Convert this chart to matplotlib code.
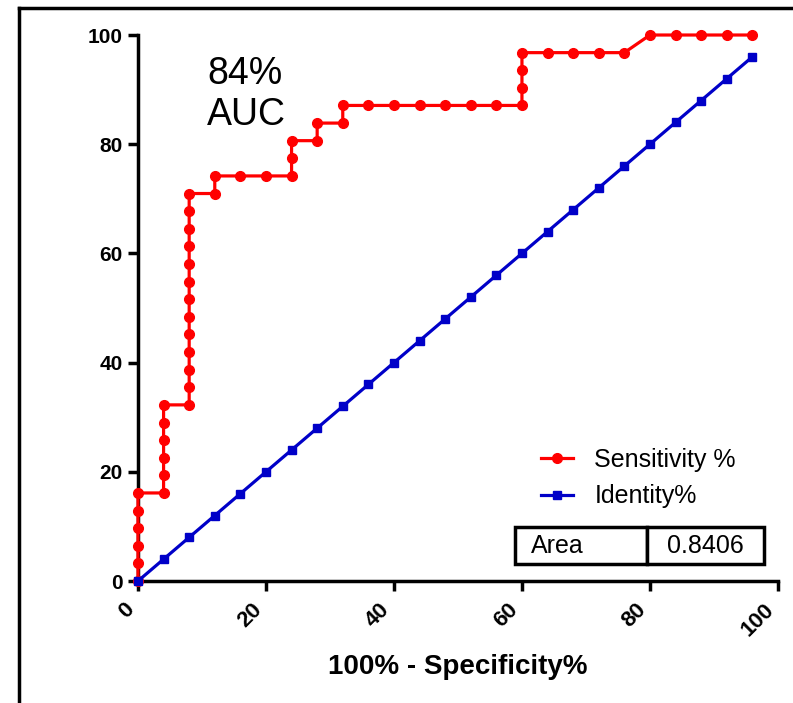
'''
ROC curve with identity line and AUC table
'''

import matplotlib
matplotlib.use('Agg')
import matplotlib.pyplot as plt
from matplotlib.lines import Line2D

plt.rcParams['font.family'] = ['Liberation Sans', 'DejaVu Sans']

# red ROC curve: 100% - specificity% vs sensitivity%
spec_x = [0, 0, 0, 0, 0, 0,
          4, 4, 4, 4, 4, 4,
          8, 8, 8, 8, 8, 8, 8, 8, 8, 8, 8, 8, 8,
          12, 12,
          16, 20, 24, 24, 24,
          28, 28,
          32, 32,
          36, 40, 44, 48, 52, 56, 60, 60, 60, 60,
          64, 68, 72, 76, 80, 84, 88, 92, 96]
sens_y = [0, 3.23, 6.45, 9.68, 12.9, 16.13,
          16.13, 19.35, 22.58, 25.81, 29.03, 32.26,
          32.26, 35.48, 38.71, 41.94, 45.16, 48.39, 51.61, 54.84, 58.06,
          61.29, 64.52, 67.74, 70.97,
          70.97, 74.19,
          74.19, 74.19, 74.19, 77.42, 80.65,
          80.65, 83.87,
          83.87, 87.1,
          87.1, 87.1, 87.1, 87.1, 87.1, 87.1, 87.1, 90.32, 93.55, 96.77,
          96.77, 96.77, 96.77, 96.77, 100, 100, 100, 100, 100]

# blue identity line
ident_x = [0, 4, 8, 12, 16, 20, 24, 28, 32, 36, 40, 44, 48,
           52, 56, 60, 64, 68, 72, 76, 80, 84, 88, 92, 96]
ident_y = [0, 4, 8, 12, 16, 20, 24, 28, 32, 36, 40, 44, 48,
           52, 56, 60, 64, 68, 72, 76, 80, 84, 88, 92, 96]

ticks = [0, 20, 40, 60, 80, 100]
area_label = 'Area'
area_value = '0.8406'

RED = '#ff0000'
BLUE = '#0000c8'

fig = plt.figure(figsize=(7.93, 7.03), dpi=100)
ax = fig.add_axes([0.174, 0.1735, 0.807, 0.7767])

ax.plot(spec_x, sens_y, color=RED, lw=2.3, marker='o', ms=7,
        clip_on=False, zorder=3, label='Sensitivity %')
ax.plot(ident_x, ident_y, color=BLUE, lw=2.3, marker='s', ms=6,
        clip_on=False, zorder=4, label='Identity%')

ax.set_xlim(0, 100)
ax.set_ylim(0, 100)
ax.set_xticks(ticks)
ax.set_yticks(ticks)
ax.set_xticklabels([str(t) for t in ticks], rotation=45, ha='right',
                   fontsize=16, fontweight='bold')
ax.set_yticklabels([str(t) for t in ticks], fontsize=15, fontweight='bold')

for side in ['top', 'right']:
    ax.spines[side].set_visible(False)
for side in ['left', 'bottom']:
    ax.spines[side].set_linewidth(2.5)
ax.tick_params(direction='out', length=7, width=2.5)
ax.tick_params(axis='x', pad=6)
ax.tick_params(axis='y', pad=4)

ax.set_xlabel('100% - Specificity%', fontsize=20, fontweight='bold',
              labelpad=10)

ax.text(0.108, 0.962, '84%\nAUC', transform=ax.transAxes, fontsize=27,
        va='top', ha='left', linespacing=1.2)

leg = ax.legend(loc='upper left', bbox_to_anchor=(0.594, 0.285),
                frameon=False, fontsize=18, handlelength=1.3,
                handletextpad=0.85, labelspacing=0.5)

tbl = ax.table(cellText=[[area_label, area_value]],
               cellLoc='center', bbox=[0.589, 0.031, 0.389, 0.068],
               colWidths=[0.53, 0.47])
tbl.auto_set_font_size(False)
for (r, c), cell in tbl.get_celld().items():
    cell.set_linewidth(2.5)
    cell.set_edgecolor('black')
    cell.get_text().set_fontsize(18)
    if c == 0:
        cell.get_text().set_ha('left')
        cell.PAD = 0.12

# outer frame (left and top edges only)
fig.add_artist(Line2D([0.024, 0.024], [0.0, 0.988], color='black',
                      lw=2.5, transform=fig.transFigure))
fig.add_artist(Line2D([0.024, 1.0], [0.988, 0.988], color='black',
                      lw=2.5, transform=fig.transFigure))

fig.savefig('out.png', dpi=100)
